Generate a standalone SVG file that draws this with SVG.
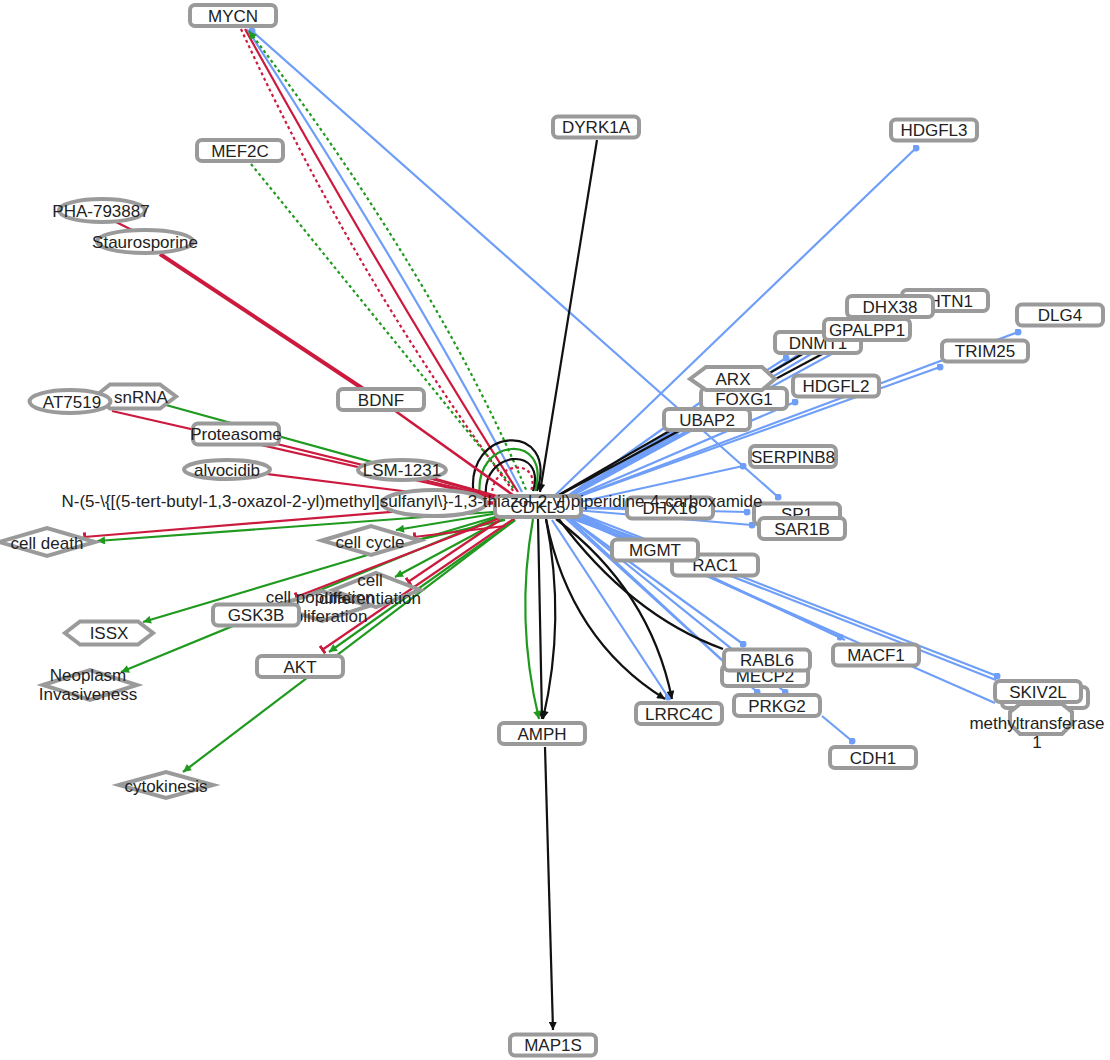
<svg xmlns="http://www.w3.org/2000/svg" width="1110" height="1060" viewBox="0 0 1110 1060">
<defs>
<style>
.n rect,.n ellipse,.n polygon{fill:#fff;stroke:#9a9a9a;stroke-width:4}
.lbl{font-family:"Liberation Sans",Arial,sans-serif;font-size:17px;fill:#222;text-anchor:middle}
.e{fill:none;stroke-width:2.2}
.ek{stroke:#111}
.eg{stroke:#1f9a1f}
.er{stroke:#cc1a3f}
.eb{stroke:#6f9ef8}
.dt{stroke-dasharray:3 3}
</style>
<marker id="aK" viewBox="0 0 10 10" refX="10" refY="5" markerWidth="9" markerHeight="8" orient="auto" markerUnits="userSpaceOnUse"><path d="M0,0 L10,5 L0,10 z" fill="#111"/></marker>
<marker id="aG" viewBox="0 0 10 10" refX="10" refY="5" markerWidth="9" markerHeight="8" orient="auto-start-reverse" markerUnits="userSpaceOnUse"><path d="M0,0 L10,5 L0,10 z" fill="#1f9a1f"/></marker>
<marker id="tR" viewBox="0 0 4 12" refX="3" refY="6" markerWidth="3" markerHeight="10" orient="auto" markerUnits="userSpaceOnUse"><rect x="0" y="0" width="4" height="12" fill="#cc1a3f"/></marker>
<marker id="dB" viewBox="0 0 10 10" refX="5" refY="5" markerWidth="7" markerHeight="7" markerUnits="userSpaceOnUse"><circle cx="5" cy="5" r="5" fill="#6f9ef8"/></marker>
</defs>
<rect width="1110" height="1060" fill="#fff"/>
<g id="edges">
<path class="e eb" d="M545,505 L916,148" marker-end="url(#dB)"/>
<path class="e eb" d="M555,505 L905,314"/>
<path class="e eb" d="M555,505 L858,318"/>
<path class="e eb" d="M555,505 L835,340"/>
<path class="e eb" d="M555,505 L786,358" marker-end="url(#dB)"/>
<path class="e eb" d="M555,505 L1018,332" marker-end="url(#dB)"/>
<path class="e eb" d="M555,505 L940,367" marker-end="url(#dB)"/>
<path class="e eb" d="M555,505 L795,402" marker-end="url(#dB)"/>
<path class="e eb" d="M555,505 L744,399"/>
<path class="e eb" d="M555,505 L732,380"/>
<path class="e eb" d="M555,505 L675,435" marker-end="url(#dB)"/>
<path class="e eb" d="M575,503 L743,466" marker-end="url(#dB)"/>
<path class="e eb" d="M575,508 L747,512" marker-end="url(#dB)"/>
<path class="e eb" d="M575,510 L752,525" marker-end="url(#dB)"/>
<path class="e eb" d="M575,508 L670,508"/>
<path class="e eb" d="M570,515 L655,550"/>
<path class="e eb" d="M570,515 L715,565"/>
<path class="e eb" d="M570,518 L712,570"/>
<path class="e eb" d="M565,515 L743,644" marker-end="url(#dB)"/>
<path class="e eb" d="M565,515 L722,660"/>
<path class="e eb" d="M562,515 L757,692" marker-end="url(#dB)"/>
<path class="e eb" d="M566,515 L785,692" marker-end="url(#dB)"/>
<path class="e eb" d="M575,515 L840,637" marker-end="url(#dB)"/>
<path class="e eb" d="M575,512 L845,640"/>
<path class="e eb" d="M578,513 L997,676" marker-end="url(#dB)"/>
<path class="e eb" d="M578,516 L996,680"/>
<path class="e eb" d="M575,518 L995,703"/>
<path class="e eb" d="M552,520 L668,697" marker-end="url(#dB)"/>
<path class="e eb" d="M822,716 L852,741" marker-end="url(#dB)"/>
<path class="e eb" d="M252,31 L778,497" marker-start="url(#dB)" marker-end="url(#dB)"/>
<path class="e eb" d="M247,29 Q411,280 522,492"/>
<path class="e er dt" d="M241,29 Q356,280 514,492"/>
<path class="e er" d="M245,29 Q384,280 518,492"/>
<path class="e eg dt" d="M249,31 Q438,280 527,492" marker-start="url(#aG)"/>
<path class="e eg dt" d="M251,164 L515,490"/>
<path class="e ek" d="M597,140 L540,492" marker-end="url(#aK)"/>
<path class="e ek" d="M538,519 L542,719" marker-end="url(#aK)"/>
<path class="e ek" d="M546,519 Q566,620 543,719" marker-end="url(#aK)"/>
<path class="e ek" d="M546,519 Q570,640 665,699" marker-end="url(#aK)"/>
<path class="e ek" d="M556,519 Q650,590 672,699" marker-end="url(#aK)"/>
<path class="e ek" d="M558,518 Q630,615 723,649"/>
<path class="e ek" d="M550,500 L806,352"/>
<path class="e ek" d="M550,500 L826,352"/>
<path class="e ek" d="M545,747 L553,1030" marker-end="url(#aK)"/>
<path class="e ek" d="M474,497 C462,425 560,420 537,491" marker-end="url(#aK)"/>
<path class="e eg" d="M480,497 C472,436 553,432 535,491"/>
<path class="e ek" d="M486,497 C481,450 547,445 533,491"/>
<path class="e er dt" d="M492,497 C490,462 542,456 531,491"/>
<path class="e eg" d="M137,397 L538,508"/>
<path class="e eg" d="M520,510 L97,541" marker-end="url(#aG)"/>
<path class="e eg" d="M505,512 L396,530" marker-end="url(#aG)"/>
<path class="e eg" d="M505,520 L418,540"/>
<path class="e eg" d="M505,514 L143,622" marker-end="url(#aG)"/>
<path class="e eg" d="M505,514 L121,672" marker-end="url(#aG)"/>
<path class="e eg" d="M505,518 L395,577" marker-end="url(#aG)"/>
<path class="e eg" d="M515,520 L329,652" marker-end="url(#aG)"/>
<path class="e eg" d="M515,520 L183,772" marker-end="url(#aG)"/>
<path class="e eg" d="M533,519 Q515,620 539,719" marker-end="url(#aG)"/>
<path class="e er" style="stroke-width:4" d="M160,254 L380,400"/>
<path class="e er" style="stroke-width:2.5" d="M380,400 L520,500"/>
<path class="e er" d="M116,222 L134,231"/>
<path class="e er" d="M112,411 L538,508"/>
<path class="e er" d="M236,434 L538,508"/>
<path class="e er" d="M227,469 L538,508"/>
<path class="e er" style="stroke-width:3" d="M402,470 L538,508"/>
<path class="e er" d="M500,503 L84,537" marker-end="url(#tR)"/>
<path class="e er" d="M505,526 L414,537" marker-end="url(#tR)"/>
<path class="e er" d="M500,520 L408,582" marker-end="url(#tR)"/>
<path class="e er" d="M500,518 L296,597" marker-end="url(#tR)"/>
<path class="e er" d="M515,518 L322,650" marker-end="url(#tR)"/>
</g>
<g id="n-PHA-793887" class="n"><ellipse cx="102" cy="210.5" rx="43" ry="11.5"/><text class="lbl" x="101" y="217">PHA-793887</text></g>
<g id="n-Staurosporine" class="n"><ellipse cx="145" cy="241.5" rx="48" ry="11.5"/><text class="lbl" x="145" y="248">Staurosporine</text></g>
<g id="n-snRNA" class="n"><polygon points="95,396.5 110,384.5 160,384.5 176,396.5 160,408.5 110,408.5"/><text class="lbl" x="141" y="402.5">snRNA</text></g>
<g id="n-AT7519" class="n"><ellipse cx="70" cy="401.5" rx="40.5" ry="11.5"/><text class="lbl" x="72" y="408">AT7519</text></g>
<g id="n-MYCN" class="n"><rect x="190" y="5" width="86" height="21" rx="5"/><text class="lbl" x="233" y="21.5">MYCN</text></g>
<g id="n-MEF2C" class="n"><rect x="197" y="140" width="86" height="21" rx="5"/><text class="lbl" x="240" y="156.5">MEF2C</text></g>
<g id="n-DYRK1A" class="n"><rect x="553" y="116.5" width="86" height="21" rx="5"/><text class="lbl" x="596" y="133">DYRK1A</text></g>
<g id="n-HDGFL3" class="n"><rect x="891" y="119.5" width="86" height="21" rx="5"/><text class="lbl" x="934" y="136">HDGFL3</text></g>
<g id="n-BDNF" class="n"><rect x="338" y="389" width="86" height="21" rx="5"/><text class="lbl" x="381" y="405.5">BDNF</text></g>
<g id="n-Proteasome" class="n"><rect x="193" y="423.5" width="86" height="21" rx="5"/><text class="lbl" x="236" y="440">Proteasome</text></g>
<g id="n-alvocidib" class="n"><ellipse cx="227" cy="469.5" rx="43" ry="9.5"/><text class="lbl" x="227" y="475.5">alvocidib</text></g>
<g id="n-LSM-1231" class="n"><ellipse cx="402" cy="470" rx="44" ry="10"/><text class="lbl" x="402" y="476">LSM-1231</text></g>
<g id="n-cell-death" class="n"><polygon points="-1,542 47,528 95,542 47,556"/><text class="lbl" x="47" y="549">cell death</text></g>
<g id="n-cell-cycle" class="n"><polygon points="322,540.5 371,526 420,540.5 371,555"/><text class="lbl" x="370" y="548">cell cycle</text></g>
<g id="n-cell-population-proliferation" class="n"><polygon points="275,606 322,591 369,606 322,621"/><text class="lbl" x="320" y="603">cell population</text><text class="lbl" x="323" y="622">proliferation</text></g>
<g id="n-cell-differentiation" class="n"><polygon points="333,590 376,573 420,590 376,607" style="fill:none"/><text class="lbl" x="370" y="586">cell</text><text class="lbl" x="370" y="604">differentiation</text></g>
<g id="n-GSK3B" class="n"><rect x="213" y="604.5" width="86" height="21" rx="5"/><text class="lbl" x="256" y="621">GSK3B</text></g>
<g id="n-ISSX" class="n"><polygon points="65,633 80,621.5 138,621.5 153,633 138,644.5 80,644.5"/><text class="lbl" x="109" y="639">ISSX</text></g>
<g id="n-Neoplasm-Invasiveness" class="n"><polygon points="43,685 90,670 137,685 90,700"/><text class="lbl" x="88" y="681">Neoplasm</text><text class="lbl" x="88" y="700">Invasiveness</text></g>
<g id="n-AKT" class="n"><rect x="257" y="656" width="86" height="21" rx="5"/><text class="lbl" x="300" y="672.5">AKT</text></g>
<g id="n-cytokinesis" class="n"><polygon points="119,785 166,772 213,785 166,798"/><text class="lbl" x="166" y="792">cytokinesis</text></g>
<g id="n-SHTN1" class="n"><rect x="902" y="290" width="86" height="21" rx="5"/><text class="lbl" x="945" y="306.5">SHTN1</text></g>
<g id="n-DHX38" class="n"><rect x="847" y="296" width="86" height="21" rx="5"/><text class="lbl" x="890" y="313">DHX38</text></g>
<g id="n-DNMT1" class="n"><rect x="775" y="332" width="86" height="21" rx="5"/><text class="lbl" x="818" y="348.5">DNMT1</text></g>
<g id="n-GPALPP1" class="n"><rect x="824" y="319" width="86" height="21" rx="5"/><text class="lbl" x="867" y="335.5">GPALPP1</text></g>
<g id="n-DLG4" class="n"><rect x="1017" y="304.5" width="86" height="21" rx="5"/><text class="lbl" x="1060" y="321">DLG4</text></g>
<g id="n-TRIM25" class="n"><rect x="942" y="340.5" width="86" height="21" rx="5"/><text class="lbl" x="985" y="357">TRIM25</text></g>
<g id="n-HDGFL2" class="n"><rect x="793" y="375.5" width="86" height="21" rx="5"/><text class="lbl" x="836" y="392">HDGFL2</text></g>
<g id="n-FOXG1" class="n"><rect x="701" y="388" width="86" height="21" rx="5"/><text class="lbl" x="744" y="404.5">FOXG1</text></g>
<g id="n-ARX" class="n"><polygon points="690,379 706,367 762,367 775,379 762,390 706,390"/><text class="lbl" x="733" y="385">ARX</text></g>
<g id="n-UBAP2" class="n"><rect x="664" y="409" width="86" height="21" rx="5"/><text class="lbl" x="707" y="425.5">UBAP2</text></g>
<g id="n-SERPINB8" class="n"><rect x="750" y="446" width="86" height="21" rx="5"/><text class="lbl" x="793" y="462.5">SERPINB8</text></g>
<g id="n-SP1" class="n"><rect x="754" y="503.5" width="86" height="21" rx="5"/><text class="lbl" x="797" y="520">SP1</text></g>
<g id="n-SAR1B" class="n"><rect x="759" y="518" width="86" height="21" rx="5"/><text class="lbl" x="802" y="534.5">SAR1B</text></g>
<g id="n-RAC1" class="n"><rect x="672" y="554.5" width="86" height="21" rx="5"/><text class="lbl" x="715" y="571">RAC1</text></g>
<g id="n-MGMT" class="n"><rect x="612" y="539.5" width="86" height="21" rx="5"/><text class="lbl" x="655" y="556">MGMT</text></g>
<g id="n-MECP2" class="n"><rect x="722" y="665" width="86" height="21" rx="5"/><text class="lbl" x="765" y="681.5">MECP2</text></g>
<g id="n-RABL6" class="n"><rect x="724" y="649.5" width="86" height="21" rx="5"/><text class="lbl" x="767" y="666">RABL6</text></g>
<g id="n-PRKG2" class="n"><rect x="734" y="695" width="86" height="21" rx="5"/><text class="lbl" x="777" y="711.5">PRKG2</text></g>
<g id="n-LRRC4C" class="n"><rect x="636" y="703" width="86" height="21" rx="5"/><text class="lbl" x="679" y="719.5">LRRC4C</text></g>
<g id="n-MACF1" class="n"><rect x="833" y="644.5" width="86" height="21" rx="5"/><text class="lbl" x="876" y="661">MACF1</text></g>
<g id="n-hidden" class="n"><rect x="1002" y="687" width="86" height="21" rx="5"/></g>
<g id="n-SKIV2L" class="n"><rect x="995" y="681" width="86" height="21" rx="5"/><text class="lbl" x="1038" y="697.5">SKIV2L</text></g>
<g id="n-methyltransferase-1" class="n"><polygon points="1020,704 1062,704 1072,712 1072,724 1062,734 1020,734 1010,724 1010,712"/><text class="lbl" x="1037" y="729">methyltransferase</text><text class="lbl" x="1037" y="748">1</text></g>
<g id="n-CDH1" class="n"><rect x="830" y="747" width="86" height="21" rx="5"/><text class="lbl" x="873" y="763.5">CDH1</text></g>
<g id="n-AMPH" class="n"><rect x="499" y="723" width="86" height="21" rx="5"/><text class="lbl" x="542" y="739.5">AMPH</text></g>
<g id="n-MAP1S" class="n"><rect x="510" y="1034.5" width="86" height="21" rx="5"/><text class="lbl" x="553" y="1051">MAP1S</text></g>
<g id="n-CDKL5" class="n"><rect x="495" y="496" width="86" height="21" rx="5"/><text class="lbl" x="538" y="513">CDKL5</text></g>
<g id="n-DHX16" class="n"><rect x="627" y="497.5" width="86" height="21" rx="5"/><text class="lbl" x="670" y="514">DHX16</text></g>
<g id="n-compound" class="n"><ellipse cx="434" cy="503" rx="52" ry="13"/><text class="lbl" x="412" y="507">N-(5-\{[(5-tert-butyl-1,3-oxazol-2-yl)methyl]sulfanyl\}-1,3-thiazol-2-yl)piperidine-4-carboxamide</text></g>
</svg>
